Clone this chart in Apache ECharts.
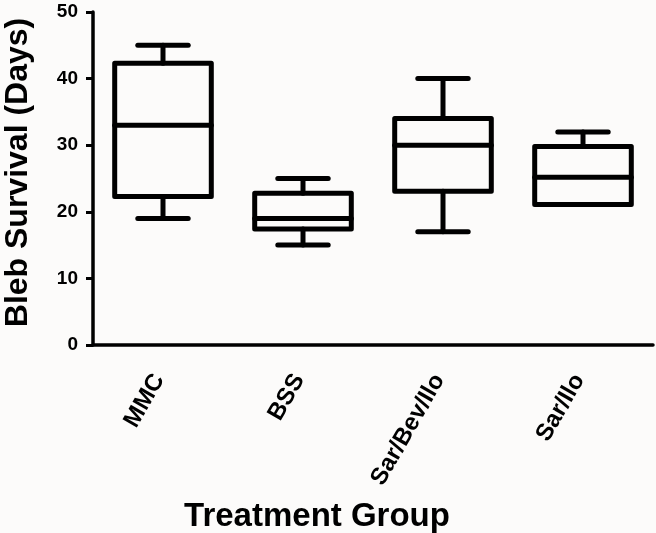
<!DOCTYPE html>
<html>
<head>
<meta charset="utf-8">
<script src="https://cdn.jsdelivr.net/npm/echarts@6/dist/echarts.min.js"></script>
<style>
html,body{margin:0;padding:0;background:#fcfbfa;}
#c{width:656px;height:533px;}
</style>
</head>
<body>
<div id="c"></div>
<script>
var categories = ['MMC', 'BSS', 'Sar/Bev/Ilo', 'Sar/Ilo'];
var whiskerLow = [19, 15, 17, 21.1];
var q1 = [22.3, 17.4, 23.1, 21.1];
var median = [33, 19, 30, 25.2];
var q3 = [42.3, 22.8, 34, 29.8];
var whiskerHigh = [45, 25, 40, 32];
var yTicks = [0, 10, 20, 30, 40, 50];

var data = categories.map(function (c, i) {
  return [i, whiskerLow[i], q1[i], median[i], q3[i], whiskerHigh[i]];
});

var FONT = '"Liberation Sans", Arial, sans-serif';
var chart = echarts.init(document.getElementById('c'));

function renderItem(params, api) {
  var x = api.value(0);
  var pLow = api.coord([x, api.value(1)]);
  var pQ1 = api.coord([x, api.value(2)]);
  var pMed = api.coord([x, api.value(3)]);
  var pQ3 = api.coord([x, api.value(4)]);
  var pHigh = api.coord([x, api.value(5)]);
  var band = api.size([1, 0])[0];
  var hw = band * 0.345;
  var cw = band * 0.18;
  var cx = pMed[0];
  var st = { stroke: '#000', lineWidth: 5, fill: null, lineCap: 'round', lineJoin: 'round' };
  return {
    type: 'group',
    children: [
      { type: 'line', shape: { x1: cx, y1: pHigh[1], x2: cx, y2: pQ3[1] }, style: st },
      { type: 'line', shape: { x1: cx - cw, y1: pHigh[1], x2: cx + cw, y2: pHigh[1] }, style: st },
      { type: 'line', shape: { x1: cx, y1: pLow[1], x2: cx, y2: pQ1[1] }, style: st },
      { type: 'line', shape: { x1: cx - cw, y1: pLow[1], x2: cx + cw, y2: pLow[1] }, style: st },
      { type: 'rect', shape: { x: cx - hw, y: pQ3[1], width: hw * 2, height: pQ1[1] - pQ3[1] }, style: st },
      { type: 'line', shape: { x1: cx - hw, y1: pMed[1], x2: cx + hw, y2: pMed[1] }, style: st }
    ]
  };
}

chart.setOption({
  backgroundColor: '#fcfbfa',
  animation: false,
  grid: { left: 93, right: 3, top: 12, bottom: 188, containLabel: false, outerBoundsMode: 'none' },
  xAxis: {
    type: 'category',
    data: categories,
    boundaryGap: true,
    axisLine: { lineStyle: { color: '#000', width: 3.5 } },
    axisTick: { alignWithLabel: true, length: 7, lineStyle: { color: '#000', width: 3 } },
    axisLabel: { rotate: 60, margin: 24, color: '#000', fontWeight: 'bold', fontSize: 24, fontFamily: FONT, padding: [0, 8, 0, 0] },
    name: 'Treatment Group',
    nameLocation: 'middle',
    nameGap: 155,
    nameTextStyle: { color: '#000', fontWeight: 'bold', fontSize: 33, fontFamily: FONT, padding: [0, 112, 0, 0] }
  },
  yAxis: {
    type: 'value',
    min: 0,
    max: 50,
    interval: 10,
    axisLine: { show: true, lineStyle: { color: '#000', width: 3.5 } },
    axisTick: { show: true, length: 7, lineStyle: { color: '#000', width: 3 } },
    splitLine: { show: false },
    axisLabel: { margin: 15, color: '#000', fontWeight: 'bold', fontSize: 19, fontFamily: FONT,
      formatter: function (v) { return yTicks.indexOf(v) >= 0 ? String(v) : ''; } },
    name: 'Bleb Survival (Days)',
    nameLocation: 'middle',
    nameRotate: 90,
    nameGap: 59,
    nameTextStyle: { color: '#000', fontWeight: 'bold', fontSize: 32, fontFamily: FONT, padding: [0, 0, 0, 12] }
  },
  series: [{
    type: 'custom',
    renderItem: renderItem,
    encode: { x: 0, y: [1, 2, 3, 4, 5] },
    data: data
  }]
});
</script>
</body>
</html>
